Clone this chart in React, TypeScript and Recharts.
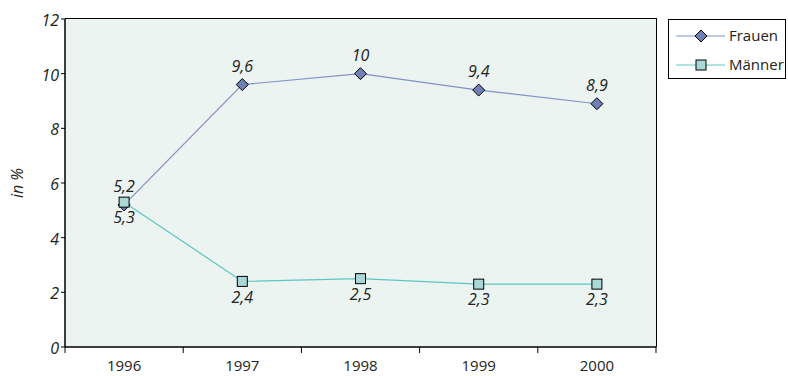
import React from 'react';
import { LineChart, Line, XAxis, YAxis, CartesianGrid, LabelList, Legend } from 'recharts';

const years = ['1996', '1997', '1998', '1999', '2000'];
const frauen = [5.2, 9.6, 10, 9.4, 8.9];
const maenner = [5.3, 2.4, 2.5, 2.3, 2.3];
const yTicks = [0, 2, 4, 6, 8, 10, 12];

const data = years.map((y, i) => ({ x: i + 0.5, year: y, frauen: frauen[i], maenner: maenner[i] }));
const xTicks: number[] = [];
for (let i = 0; i <= years.length; i++) {
  xTicks.push(i);
  if (i < years.length) xTicks.push(i + 0.5);
}

const FONT = '"Open Sans", "Noto Sans", sans-serif';
const C_F_LINE = '#8391C6';
const C_F_FILL = '#6E80B6';
const C_M_LINE = '#5EC6C0';
const C_M_FILL = '#A9D8D6';
const BG = '#EBF4F0';

const fmt = (v: any) => String(v).replace('.', ',');

const Diamond = (props: any) => {
  const { cx, cy } = props;
  if (cx == null || cy == null) return null;
  const r = 6;
  return (
    <path d={`M${cx},${cy - r}L${cx + r},${cy}L${cx},${cy + r}L${cx - r},${cy}Z`} fill={C_F_FILL} stroke="#000" strokeWidth={1} />
  );
};

const Square = (props: any) => {
  const { cx, cy } = props;
  if (cx == null || cy == null) return null;
  const r = 5;
  return <rect x={cx - r} y={cy - r} width={2 * r} height={2 * r} fill={C_M_FILL} stroke="#000" strokeWidth={1} />;
};

const XTick = (props: any) => {
  const { x, y, payload } = props;
  const v = payload.value;
  if (Number.isInteger(v)) {
    return <line x1={x} x2={x} y1={y - 7} y2={y - 1} stroke="#000" strokeWidth={1} />;
  }
  const idx = Math.floor(v);
  return (
    <text x={x} y={y} dy={17} textAnchor="middle" fontFamily={FONT} fontSize={15} fill="#222">
      {years[idx]}
    </text>
  );
};

const YTick = (props: any) => {
  const { x, y, payload } = props;
  return (
    <text x={x} y={y} dy={7} textAnchor="end" fontFamily={FONT} fontStyle="italic" fontSize={16} fill="#222">
      {payload.value}
    </text>
  );
};

const LegendContent = () => (
  <div
    style={{
      position: 'absolute',
      left: 668,
      top: 19,
      width: 118,
      height: 60,
      border: '1px solid #000',
      background: '#fff',
      boxSizing: 'border-box',
      fontFamily: FONT,
      fontSize: 15,
      color: '#222',
    }}
  >
    <svg width={60} height={60} style={{ position: 'absolute', left: 0, top: 0 }}>
      <line x1={7} x2={56} y1={16} y2={16} stroke={C_F_LINE} strokeWidth={1} />
      <path d="M32,10L38,16L32,22L26,16Z" fill={C_F_FILL} stroke="#000" />
      <line x1={7} x2={56} y1={45} y2={45} stroke={C_M_LINE} strokeWidth={1} />
      <rect x={27} y={40} width={10} height={10} fill={C_M_FILL} stroke="#000" />
    </svg>
    <div style={{ position: 'absolute', left: 60, top: 5, lineHeight: '20px' }}>Frauen</div>
    <div style={{ position: 'absolute', left: 60, top: 34, lineHeight: '20px' }}>Männer</div>
  </div>
);

const labelStyle = { fontFamily: FONT, fontStyle: 'italic', fontSize: 16, fill: '#222' };

export default function App() {
  return (
    <div style={{ position: 'absolute', left: 0, top: 0, width: 788, height: 376, background: '#fff' }}>
      <LineChart width={788} height={376} data={data} margin={{ top: 19, right: 132, bottom: 0, left: 20 }}>
        <rect x={65} y={19} width={591} height={328} fill={BG} />
        <CartesianGrid vertical={false} stroke="#fff" strokeWidth={1.5} fill={BG} />
        <XAxis
          dataKey="x"
          type="number"
          domain={[0, years.length]}
          ticks={xTicks}
          interval={0}
          tick={<XTick />}
          tickLine={false}
          tickSize={5}
          height={29}
          axisLine={{ stroke: '#000', strokeWidth: 1.5 }}
        />
        <YAxis
          domain={[0, 12]}
          ticks={yTicks}
          interval={0}
          width={45}
          tick={<YTick />}
          tickSize={4}
          tickLine={{ stroke: '#000' }}
          axisLine={{ stroke: '#000', strokeWidth: 1.5 }}
          label={{
            value: 'in %',
            angle: -90,
            position: 'insideLeft',
            dx: -8,
            style: { ...labelStyle, textAnchor: 'middle' },
          }}
        />
        <Line
          dataKey="frauen"
          stroke={C_F_LINE}
          strokeWidth={1.2}
          dot={<Diamond />}
          isAnimationActive={false}
        >
          <LabelList dataKey="frauen" position="top" offset={13} formatter={fmt} style={labelStyle} />
        </Line>
        <Line
          dataKey="maenner"
          stroke={C_M_LINE}
          strokeWidth={1.2}
          dot={<Square />}
          isAnimationActive={false}
        >
          <LabelList dataKey="maenner" position="bottom" offset={10} formatter={fmt} style={labelStyle} />
        </Line>
        <Legend content={<LegendContent />} wrapperStyle={{ position: 'absolute', left: 0, top: 0, width: 0, height: 0 }} />
      </LineChart>
      <div style={{ position: 'absolute', left: 656, top: 19, width: 1, height: 328, background: '#000' }} />
      <div style={{ position: 'absolute', left: 65, top: 18, width: 592, height: 1, background: '#000' }} />
    </div>
  );
}
